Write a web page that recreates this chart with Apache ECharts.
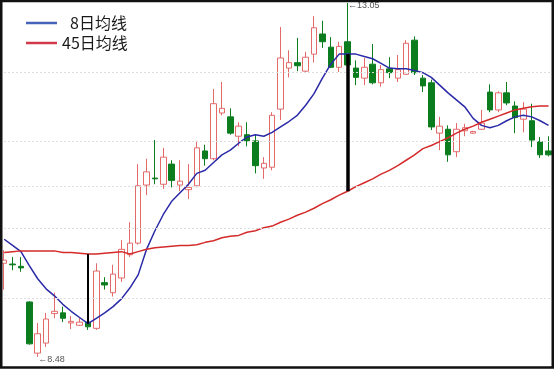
<!DOCTYPE html>
<html><head><meta charset="utf-8">
<script src="https://cdn.jsdelivr.net/npm/echarts@6/dist/echarts.min.js"></script>
<style>html,body{margin:0;padding:0;background:#fff;}#c{width:554px;height:370px;}</style>
</head><body><div id="c"></div>
<script>
const days = ['1','2','3','4','5','6','7','8','9','10','11','12','13','14','15','16','17','18','19','20','21','22','23','24','25','26','27','28','29','30','31','32','33','34','35','36','37','38','39','40','41','42','43','44','45','46','47','48','49','50','51','52','53','54','55','56','57','58','59','60','61','62','63','64','65','66'];
const opens = [9.69,9.68,9.65,9.19,8.53,8.66,9.04,9.05,8.92,8.89,8.93,8.85,9.44,9.31,9.50,9.80,9.95,10.70,10.79,10.71,10.97,10.70,10.64,10.69,11.14,11.04,11.63,11.58,11.33,11.35,11.27,10.92,10.93,11.68,12.21,12.28,12.17,12.39,12.65,12.48,12.22,12.55,12.21,12.08,12.26,12.02,12.20,12.08,12.13,12.57,12.08,12.02,11.37,11.42,11.13,11.40,11.37,11.42,11.90,11.67,11.89,11.72,11.55,11.53,11.26,11.14];
const closes = [9.73,9.67,9.63,8.65,8.78,8.97,9.07,8.98,8.94,8.93,8.87,9.59,9.41,9.55,9.87,9.95,10.69,10.87,10.78,11.06,10.76,10.75,10.67,11.18,11.04,11.75,11.69,11.37,11.46,11.27,10.95,10.98,11.60,12.34,12.28,12.24,12.35,12.73,12.55,12.22,12.49,12.25,12.09,12.22,12.02,12.19,12.15,12.19,12.53,12.15,11.98,11.45,11.46,11.09,11.42,11.44,11.39,11.50,11.67,11.89,11.76,11.57,11.68,11.28,11.09,11.09];
const lows = [9.35,9.60,9.58,8.64,8.48,8.61,8.98,8.93,8.84,8.88,8.83,8.83,9.35,9.26,9.45,9.77,9.93,10.57,10.71,10.65,10.67,10.62,10.52,10.67,10.95,11.02,11.60,11.35,11.20,11.20,10.85,10.78,10.89,11.54,12.09,12.17,12.15,12.28,12.47,12.21,12.16,12.24,11.99,11.99,12.00,11.97,12.08,12.03,12.12,12.12,11.90,11.41,11.15,11.00,11.06,11.33,11.36,11.41,11.64,11.64,11.73,11.37,11.38,11.19,11.05,11.07];
const highs = [9.86,9.77,9.77,9.20,8.92,9.05,9.31,9.13,9.01,8.98,9.02,9.69,9.51,9.67,9.99,10.22,10.97,11.04,11.28,11.18,11.02,11.02,10.97,11.27,11.22,11.94,12.03,11.69,11.51,11.51,11.35,11.06,11.64,12.74,12.44,12.60,12.42,12.88,12.82,12.61,12.55,13.05,12.31,12.34,12.52,12.25,12.35,12.38,12.57,12.62,12.12,12.06,11.58,11.47,11.50,11.49,11.40,11.67,12.00,11.91,12.03,11.78,11.77,11.75,11.32,11.33];
const ma8 = [10.00,9.92,9.84,9.66,9.49,9.36,9.27,9.16,9.07,8.99,8.91,8.98,9.05,9.13,9.23,9.37,9.54,9.87,10.11,10.32,10.49,10.60,10.71,10.85,10.89,10.99,11.09,11.15,11.24,11.32,11.35,11.33,11.38,11.45,11.52,11.60,11.73,11.88,12.08,12.26,12.39,12.39,12.39,12.36,12.33,12.27,12.21,12.20,12.20,12.18,12.15,12.09,11.99,11.89,11.80,11.71,11.56,11.47,11.44,11.47,11.53,11.58,11.60,11.58,11.53,11.47];
const ma45 = [9.83,9.84,9.85,9.85,9.85,9.85,9.85,9.83,9.83,9.82,9.81,9.81,9.82,9.83,9.84,9.81,9.84,9.87,9.89,9.90,9.91,9.92,9.92,9.93,9.96,9.98,10.02,10.04,10.05,10.09,10.11,10.15,10.17,10.22,10.26,10.31,10.35,10.40,10.46,10.51,10.57,10.62,10.68,10.73,10.78,10.84,10.89,10.95,11.02,11.09,11.17,11.21,11.26,11.31,11.37,11.42,11.46,11.51,11.55,11.59,11.63,11.67,11.69,11.71,11.72,11.72];
const gridPrices = [12.16, 11.26, 10.69, 10.14, 9.24];
const crossDays = [10, 41];

const kData = opens.map((o, i) => [o, closes[i], lows[i], highs[i]]);

const chart = echarts.init(document.getElementById('c'));
chart.setOption({
  animation: false,
  backgroundColor: '#fff',
  grid: { left: 0, right: 1.3, top: 3, bottom: 13 },
  xAxis: { type: 'category', data: days, show: false, boundaryGap: true },
  yAxis: { type: 'value', min: 8.48, max: 13.05, show: false, splitLine: { show: false } },
  legend: {
    orient: 'vertical', left: 26, top: 15, padding: 0, itemWidth: 31, itemHeight: 2.5, itemGap: 4, icon: 'rect',
    data: [
      { name: '8日均线', itemStyle: { color: '#4563b8' } },
      { name: '45日均线', itemStyle: { color: '#d03a48' } }
    ],
    formatter: n => n === '8日均线' ? '\u2002' + n : n,
    textStyle: { fontFamily: 'Noto Sans CJK SC', fontSize: 16, color: '#1a1a1a', lineHeight: 16 }
  },
  series: [
    {
      type: 'line', name: 'grid', data: [], silent: true, z: 0,
      markLine: {
        symbol: 'none', silent: true, label: { show: false },
        lineStyle: { color: '#dddddd', type: [2, 2], width: 1 },
        data: gridPrices.map(v => ({ yAxis: v }))
      }
    },
    {
      type: 'candlestick', name: 'K', data: kData, barWidth: 6, z: 2,
      itemStyle: { color: '#ffffff', color0: '#0c7d1e', borderColor: '#e46a6a', borderColor0: '#0c7d1e', borderWidth: 1 },
      markPoint: {
        symbol: 'circle', symbolSize: 1, itemStyle: { color: 'rgba(0,0,0,0)' },
        label: { show: true, position: 'right', distance: 0, fontSize: 9, color: '#555', fontFamily: 'Liberation Sans', formatter: p => '\u2190' + p.value },
        data: [
          { type: 'max', valueDim: 'highest', label: { offset: [0, 3] } },
          { type: 'min', valueDim: 'lowest', label: { offset: [0, 3] } }
        ]
      }
    },
    {
      type: 'line', name: '8日均线', data: ma8, symbol: 'none', z: 3,
      lineStyle: { color: '#2a2aa8', width: 1.5 }, itemStyle: { color: '#2a2aa8' },
      markLine: {
        symbol: 'none', silent: true, label: { show: false },
        lineStyle: { color: '#000', type: 'solid', width: 2 },
        data: [
          [{ coord: [days[crossDays[0]], ma45[crossDays[0]]], lineStyle: { width: 2, color: '#000', type: 'solid' } }, { coord: [days[crossDays[0]], ma8[crossDays[0]]] }],
          [{ coord: [days[crossDays[1]], ma8[crossDays[1]]], lineStyle: { width: 3.5, color: '#000', type: 'solid' } }, { coord: [days[crossDays[1]], ma45[crossDays[1]]] }]
        ]
      }
    },
    {
      type: 'line', name: '45日均线', data: ma45, symbol: 'none', z: 3,
      lineStyle: { color: '#d42a2a', width: 1.5 }, itemStyle: { color: '#d42a2a' }
    }
  ],
  graphic: [{
    type: 'rect', silent: true, z: 100,
    shape: { x: 1.25, y: 1, width: 551.5, height: 366.5 },
    style: { fill: 'none', stroke: '#111', lineWidth: 2.5 }
  }]
});
</script></body></html>
